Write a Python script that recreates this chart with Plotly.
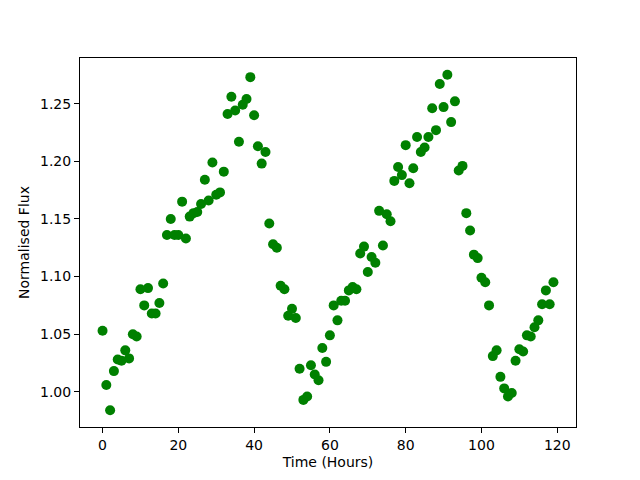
import plotly.graph_objects as go

time_hours = list(range(120))
flux = [
    1.053, 1.006, 0.984, 1.018, 1.028, 1.027, 1.036, 1.029, 1.050, 1.048,
    1.089, 1.075, 1.090, 1.068, 1.068, 1.077, 1.094, 1.136, 1.150, 1.136,
    1.136, 1.165, 1.133, 1.152, 1.155, 1.156, 1.163, 1.184, 1.166, 1.199,
    1.171, 1.173, 1.191, 1.241, 1.256, 1.244, 1.217, 1.249, 1.254, 1.273,
    1.240, 1.213, 1.198, 1.208, 1.146, 1.128, 1.125, 1.092, 1.089, 1.066,
    1.072, 1.064, 1.020, 0.993, 0.996, 1.023, 1.015, 1.010, 1.038, 1.026,
    1.049, 1.075, 1.062, 1.079, 1.079, 1.088, 1.091, 1.089, 1.120, 1.126,
    1.104, 1.117, 1.112, 1.157, 1.127, 1.154, 1.148, 1.183, 1.195, 1.188,
    1.214, 1.181, 1.194, 1.221, 1.208, 1.212, 1.221, 1.246, 1.227, 1.267,
    1.247, 1.275, 1.234, 1.252, 1.192, 1.196, 1.155, 1.140, 1.119, 1.116,
    1.099, 1.095, 1.075, 1.031, 1.036, 1.013, 1.003, 0.996, 0.999, 1.027,
    1.037, 1.035, 1.049, 1.048, 1.056, 1.062, 1.076, 1.088, 1.076, 1.095,
]
x_ticks = [0, 20, 40, 60, 80, 100, 120]
y_ticks = [1.00, 1.05, 1.10, 1.15, 1.20, 1.25]

fig = go.Figure(go.Scatter(
    x=time_hours, y=flux, mode="markers",
    marker=dict(color="#008000", size=10, line=dict(width=0)),
))

axis_common = dict(
    showline=True, linecolor="black", linewidth=1, mirror=True,
    ticks="outside", ticklen=5, tickwidth=1, tickcolor="black",
    showgrid=False, zeroline=False,
    tickfont=dict(family="DejaVu Sans", size=14, color="black"),
)

fig.update_layout(
    width=640, height=480,
    margin=dict(l=72, r=72, t=50, b=61),
    paper_bgcolor="white", plot_bgcolor="white",
    showlegend=False,
    font=dict(family="DejaVu Sans", size=14, color="black"),
    xaxis=dict(range=[-5.95, 124.95], tickvals=x_ticks,
               title=dict(text="Time (Hours)", font=dict(size=14), standoff=5),
               **axis_common),
    yaxis=dict(range=[0.9695, 1.2896], tickvals=y_ticks, tickformat=".2f",
               title=dict(text="Normalised Flux", font=dict(size=14), standoff=7),
               **axis_common),
)

fig.write_html("out.html")
